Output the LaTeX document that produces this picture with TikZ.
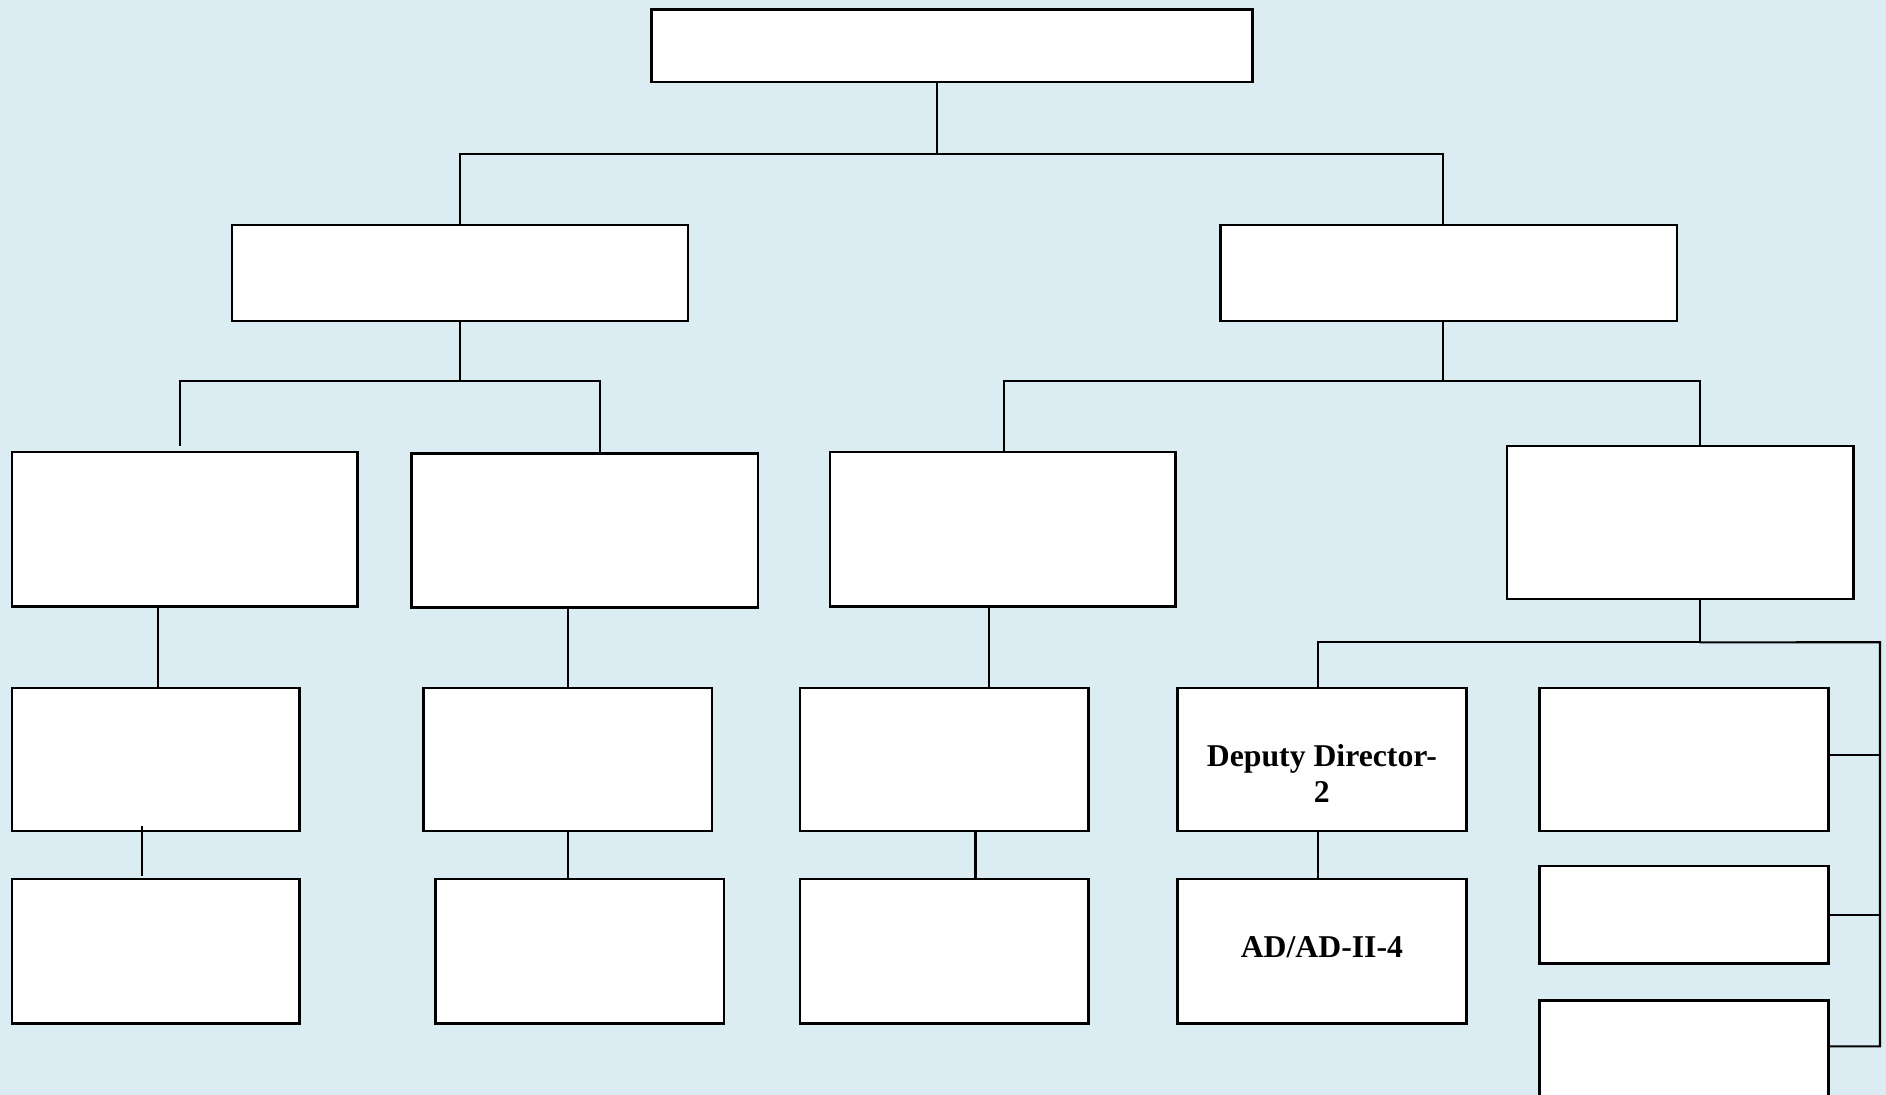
\documentclass[tikz,border=0pt]{standalone}
\usepackage{fontspec}
\setmainfont{Liberation Serif}
\definecolor{bgblue}{RGB}{219,237,243}
\tikzset{
  post/.style={draw=black, fill=white, line width=0.6pt, inner sep=0pt, outer sep=0pt},
  title/.style={align=center, inner sep=0pt, font=\fontsize{7.5}{8.4}\selectfont\bfseries},
  link/.style={black, line width=0.5pt}
}

\begin{document}
\begin{tikzpicture}[x=0.01cm, y=-0.01cm]
\clip (0,0) rectangle (1568,910);
\fill[bgblue] (0,0) rectangle (1568,910);
% posts
\node[post, minimum width=4.99cm, minimum height=0.6cm] (top) at (791.5,38) {};
\node[post, minimum width=3.79cm, minimum height=0.8cm] (dirL) at (382.5,227) {};
\node[post, minimum width=3.79cm, minimum height=0.8cm] (dirR) at (1204.5,227) {};
\node[post, minimum width=2.87cm, minimum height=1.28cm] (secA) at (153.5,440) {};
\node[post, minimum width=2.88cm, minimum height=1.28cm] (secB) at (486,441) {};
\node[post, minimum width=2.87cm, minimum height=1.28cm] (secC) at (833.5,440) {};
\node[post, minimum width=2.88cm, minimum height=1.27cm] (secD) at (1397,434.5) {};
\node[post, minimum width=2.39cm, minimum height=1.19cm] (unitA) at (129.5,631.5) {};
\node[post, minimum width=2.40cm, minimum height=1.19cm] (unitB) at (472,631.5) {};
\node[post, minimum width=2.40cm, minimum height=1.19cm] (unitC) at (785,631.5) {};
\node[post, minimum width=2.40cm, minimum height=1.19cm] (dd2) at (1099,631.5) {};
\node[post, minimum width=2.40cm, minimum height=1.19cm] (sideA) at (1400,631.5) {};
\node[post, minimum width=2.39cm, minimum height=1.20cm] (deskA) at (129.5,791) {};
\node[post, minimum width=2.40cm, minimum height=1.20cm] (deskB) at (482,791) {};
\node[post, minimum width=2.40cm, minimum height=1.20cm] (deskC) at (785,791) {};
\node[post, minimum width=2.40cm, minimum height=1.20cm] (ad4) at (1099,791) {};
\node[post, minimum width=2.40cm, minimum height=0.81cm] (sideB) at (1400,760.5) {};
\node[post, minimum width=2.40cm, minimum height=1.20cm] (sideC) at (1400,892) {};
% titles
\node[title] (dd2text) at ([yshift=-0.115cm]dd2.center) {Deputy Director-\\2};
\node[title] (ad4text) at ([yshift=0.035cm]ad4.center) {AD/AD-II-4};
% links
\draw[link] ([xshift=-0.125cm]top.south) -- ++(0,60) coordinate (busT);
\draw[link] (busT) -| (dirL.north);
\draw[link] (busT) -| ([xshift=-0.045cm]dirR.north);
\draw[link] (dirL.south) -- ++(0,50) coordinate (busL);
\draw[link] (busL) -| ([xshift=-0.035cm,yshift=0.05cm]secA.north);
\draw[link] (busL) -| ([xshift=0.13cm]secB.north);
\draw[link] ([xshift=-0.045cm]dirR.south) -- ++(0,50) coordinate (busR);
\draw[link] (busR) -| ([xshift=0.015cm]secC.north);
\draw[link] (busR) -| ([xshift=0.16cm]secD.north);
\draw[link] ([xshift=0.015cm]unitA.north) -- ([xshift=0.015cm]unitA.north |- secA.south);
\draw[link] (unitB.north) -- (unitB.north |- secB.south);
\draw[link] ([xshift=0.37cm]unitC.north) -- ([xshift=0.37cm]unitC.north |- secC.south);
\draw[link] ([xshift=-0.115cm,yshift=0.03cm]deskA.north) -- ([xshift=-0.115cm,yshift=0.04cm]deskA.north |- unitA.south);
\draw[link] (unitB.south) -- (unitB.south |- deskB.north);
\draw[link] ([xshift=0.26cm]unitC.south) -- ([xshift=0.26cm]deskC.north);
\draw[link] ([xshift=-0.03cm]dd2.south) -- ([xshift=-0.03cm]ad4.north);
\draw[link] ([xshift=0.16cm]secD.south) -- ++(0,36) coordinate (busD);
\draw[link] (busD) -| ([xshift=-0.03cm]dd2.north);
\coordinate (rail) at (1563,534);
\draw[link] (busD) -- (rail) |- ([yshift=0.22cm]sideC.east);
\draw[link] ([yshift=0.035cm]sideA.east) -- ([yshift=0.035cm]sideA.east -| rail);
\draw[link] (sideB.east) -- (sideB.east -| rail);
\end{tikzpicture}
\end{document}
